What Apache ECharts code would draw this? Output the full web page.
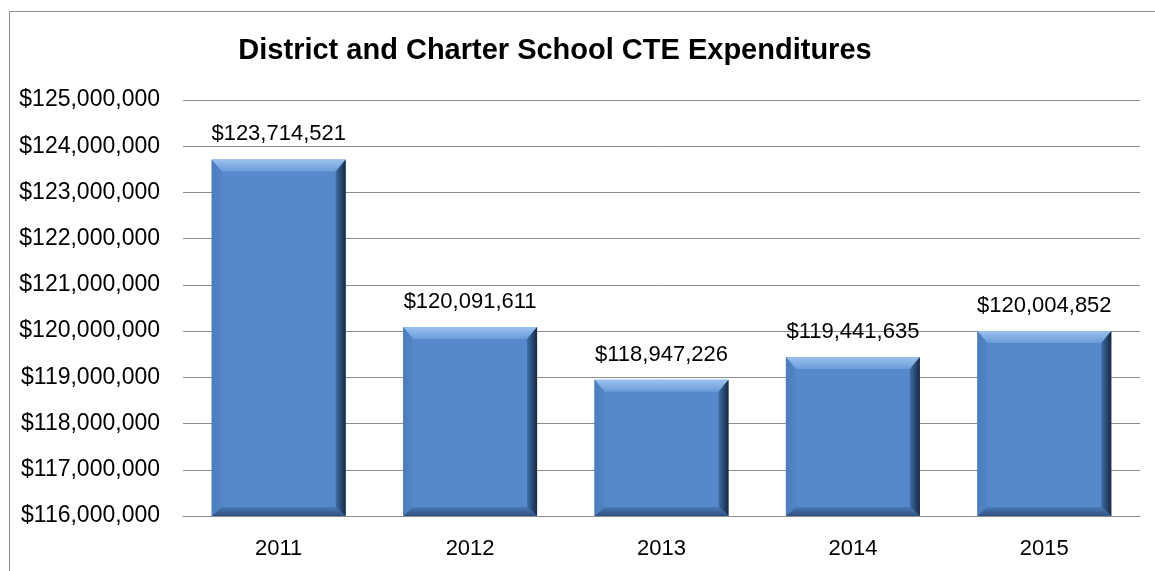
<!DOCTYPE html>
<html lang="en">
  <head>
    <meta charset="UTF-8" />
    <title>District and Charter School CTE Expenditures</title>
    <style>
      * {
        margin: 0;
        padding: 0;
      }
      #main {
        width: 1155px;
        height: 571px;
        background: #fff;
      }
    </style>
  </head>
  <body>
    <div id="main"></div>
  </body>
  <script src="https://cdn.jsdelivr.net/npm/echarts@6/dist/echarts.min.js"></script>
  <script>
    // 数据
    var years = ["2011", "2012", "2013", "2014", "2015"];
    var spend = [123714521, 120091611, 118947226, 119441635, 120004852];
    var yMin = 116000000;
    var yMax = 125000000;
    var yStep = 1000000;

    var font = '"Liberation Sans", Arial, sans-serif';

    function money(v) {
      return "$" + Math.round(v).toLocaleString("en-US");
    }

    var myChart = echarts.init(document.getElementById("main"));

    // 斜面柱子
    function renderBar(params, api) {
      var top = api.coord([api.value(0), api.value(1)]);
      var base = api.coord([api.value(0), yMin]);
      var w = api.size([1, 0])[0] * 0.7;
      var x0 = top[0] - w / 2;
      var x1 = top[0] + w / 2;
      var y0 = top[1];
      var yb = base[1];
      var b = 10; // 侧边斜面宽度
      var bt = 12; // 顶部斜面
      var bb = 9; // 底部斜面

      return {
        type: "group",
        children: [
          {
            type: "rect",
            shape: { x: x0, y: y0, width: w, height: yb - y0 },
            style: { fill: "#5689CA" },
          },
          {
            type: "polygon",
            shape: { points: [[x0, y0], [x1, y0], [x1 - b, y0 + bt], [x0 + b, y0 + bt]] },
            style: {
              fill: new echarts.graphic.LinearGradient(0, 0, 0, 1, [
                { offset: 0, color: "#9BC2EE" },
                { offset: 1, color: "#6B9CD9" },
              ]),
            },
          },
          {
            type: "polygon",
            shape: { points: [[x0, y0], [x0 + b, y0 + bt], [x0 + b, yb - bb], [x0, yb]] },
            style: {
              fill: new echarts.graphic.LinearGradient(0, 0, 1, 0, [
                { offset: 0, color: "#4B7DBD" },
                { offset: 1, color: "#5385C6" },
              ]),
            },
          },
          {
            type: "polygon",
            shape: { points: [[x1, y0], [x1, yb], [x1 - b, yb - bb], [x1 - b, y0 + bt]] },
            style: {
              fill: new echarts.graphic.LinearGradient(0, 0, 1, 0, [
                { offset: 0, color: "#3F6DA8" },
                { offset: 1, color: "#16283F" },
              ]),
            },
          },
          {
            type: "polygon",
            shape: { points: [[x0, yb], [x1, yb], [x1 - b, yb - bb], [x0 + b, yb - bb]] },
            style: {
              fill: new echarts.graphic.LinearGradient(0, 0, 0, 1, [
                { offset: 0, color: "#4A79B6" },
                { offset: 1, color: "#2F5283" },
              ]),
            },
          },
          {
            type: "text",
            style: {
              text: money(api.value(1)),
              x: top[0],
              y: y0 - 25,
              align: "center",
              verticalAlign: "middle",
              fill: "#000",
              font: "22px " + font,
            },
          },
        ],
      };
    }

    var option = {
      backgroundColor: "#fff",
      animation: false,
      graphic: [
        {
          type: "rect",
          shape: { x: 9.5, y: 11.5, width: 1300, height: 700 },
          style: { fill: "none", stroke: "#8c8c8c", lineWidth: 1 },
          silent: true,
        },
        {
          type: "text",
          x: 555,
          y: 51,
          style: {
            text: "District and Charter School CTE Expenditures",
            align: "center",
            verticalAlign: "middle",
            fill: "#000",
            font: "bold 29px " + font,
          },
        },
      ],
      grid: {
        left: 183,
        right: 15,
        top: 100,
        bottom: 55,
      },
      xAxis: {
        type: "category",
        data: years,
        axisLine: { lineStyle: { color: "#8c8c8c", width: 1 } },
        axisTick: { show: false },
        axisLabel: {
          color: "#000",
          fontFamily: font,
          fontSize: 22,
          margin: 22,
        },
      },
      yAxis: {
        type: "value",
        min: yMin,
        max: yMax,
        interval: yStep,
        axisLine: { show: false },
        axisTick: { show: false },
        splitLine: { lineStyle: { color: "#8c8c8c", width: 1 } },
        axisLabel: {
          color: "#000",
          fontFamily: font,
          fontSize: 23,
          margin: 23,
          formatter: money,
        },
      },
      series: [
        {
          type: "custom",
          renderItem: renderBar,
          encode: { x: 0, y: 1 },
          data: years.map(function (y, i) {
            return [i, spend[i]];
          }),
          z: 3,
        },
      ],
    };

    myChart.setOption(option);
  </script>
</html>
